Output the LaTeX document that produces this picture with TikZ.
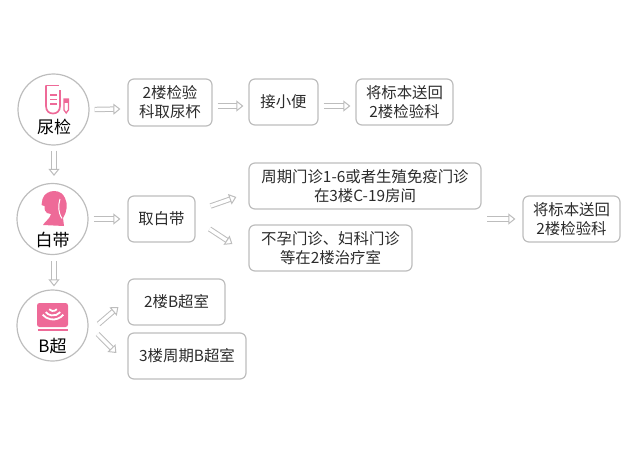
\documentclass[tikz,border=0pt]{standalone}
\usepackage{fontspec}
\setmainfont{Noto Sans CJK SC}
\usepackage{xcolor}
\definecolor{boxline}{HTML}{BDBDBD}
\definecolor{iconpink}{HTML}{EE6A98}
\definecolor{inktext}{HTML}{2B2B2B}
\usetikzlibrary{arrows.meta,positioning,calc}
\tikzset{
  stepbox/.style={draw=boxline,line width=1.2pt,rounded corners=6pt,align=center,font=\fontsize{15.4}{19}\selectfont,text=inktext,inner sep=0pt},
  testcircle/.style={draw=boxline,line width=1.2pt,circle,minimum size=71pt,inner sep=0pt},
  testlabel/.style={font=\fontsize{17}{20}\selectfont,text=black,inner sep=0pt},
  flow/.style={draw=boxline,line width=1pt,double=white,double distance=3.4pt,-{Triangle[open,length=7pt,width=11pt,line width=1pt]}},
}
\begin{document}
\begin{tikzpicture}[x=1pt,y=-1pt]
  \useasboundingbox (0,0) rectangle (640,452);
  % circles
  \node[testcircle] (urine) at (53.5,109.5) {};
  \node[testcircle] (white) at (52.5,219) {};
  \node[testcircle] (bscan) at (52.5,325.5) {};
  \node[testlabel] (urinelabel) at (54,127) {尿检};
  \node[testlabel] (whitelabel) at (52.5,240) {白带};
  \node[testlabel] (bscanlabel) at (52.5,346) {B超};
  % icons
  \draw[iconpink,line width=1.7pt] (46,85.5) -- (46,106) .. controls (46,111) and (49,113.5) .. (53,113.5) .. controls (57,113.5) and (60,111) .. (60,106) -- (60,90);
  \draw[iconpink,line width=1.5pt] (46,85.5) -- (59,85.5);
  \foreach \tick in {95,99.5,104} \draw[iconpink,line width=1.4pt] (50,\tick) -- (56.5,\tick);
  \draw[iconpink,line width=1.3pt] (64,99) -- (64,110) -- (66.2,113) -- (68.4,110) -- (68.4,99) -- cycle;
  \fill[iconpink] (64,99) rectangle (68.4,103);
  \fill[iconpink] (42.5,199) .. controls (44,194) and (49,191) .. (54,191)
    .. controls (60,191) and (63,194) .. (65,198)
    .. controls (68,204) and (67,212) .. (63,218)
    .. controls (63,221) and (64,223) .. (64,226)
    -- (43,225) .. controls (45,221) and (50,219) .. (51,214)
    -- (47,213) .. controls (45,212) and (44,209) .. (44.5,206)
    -- (41.5,205) -- cycle;
  \draw[white,line width=1pt] (60,199) .. controls (58,206) and (58,212) .. (62,218.5);
  \fill[iconpink,rounded corners=2.5pt] (37,303) rectangle (68,327);
  \fill[iconpink] (38,329) rectangle (67.5,331);
  \foreach \rad in {5,9.5,13.5} \draw[white,line width=1.8pt] (53+\rad*0.766,306+\rad*0.643) arc[start angle=40,end angle=140,radius=\rad];
  % boxes
  \node[stepbox,minimum width=84pt,minimum height=47pt] (cup) at (170,102.5) {2楼检验\\科取尿杯};
  \node[stepbox,minimum width=69pt,minimum height=46pt] (sample) at (283.5,102) {接小便};
  \node[stepbox,minimum width=97pt,minimum height=46pt] (returna) at (404.5,102) {将标本送回\\2楼检验科};
  \node[stepbox,minimum width=67pt,minimum height=46pt] (swab) at (161.5,219) {取白带};
  \node[stepbox,minimum width=232pt,minimum height=46pt] (cycle) at (365,186) {周期门诊1-6或者生殖免疫门诊\\在3楼C-19房间};
  \node[stepbox,minimum width=163pt,minimum height=46pt] (infert) at (330.5,248) {不孕门诊、妇科门诊\\等在2楼治疗室};
  \node[stepbox,minimum width=97pt,minimum height=46pt] (returnb) at (571.5,219) {将标本送回\\2楼检验科};
  \node[stepbox,minimum width=97pt,minimum height=46pt] (floortwo) at (176.5,302) {2楼B超室};
  \node[stepbox,minimum width=118pt,minimum height=46pt] (floorthree) at (187,356) {3楼周期B超室};
  % connectors
  \draw[flow] ($(urine.east)+(5,0)$) -- ($(cup.west)+(-7,6.5)$);
  \draw[flow] ($(cup.east)+(5,3.5)$) -- ($(sample.west)+(-5,4)$);
  \draw[flow] ($(sample.east)+(5,4)$) -- ($(returna.west)+(-5,4)$);
  \draw[flow] ($(urine.south)+(0.5,5)$) -- ($(white.north)+(1.5,-7)$);
  \draw[flow] ($(white.east)+(5,0)$) -- ($(swab.west)+(-7,0)$);
  \draw[flow] ($(swab.east)+(15,-13)$) -- ($(cycle.west)+(-12,11)$);
  \draw[flow] ($(swab.east)+(14,10)$) -- ($(infert.west)+(-16,-4)$);
  \draw[flow] ($(returnb.west)+(-35,0)$) -- ($(returnb.west)+(-7,0)$);
  \draw[flow] ($(white.south)+(1.5,6)$) -- ($(bscan.north)+(1.5,-3)$);
  \draw[flow] ($(bscan.east)+(10,-1.5)$) -- ($(floortwo.west)+(-9,5)$);
  \draw[flow] ($(bscan.east)+(9,8.5)$) -- ($(floorthree.west)+(-11,-3)$);
\end{tikzpicture}
\end{document}
